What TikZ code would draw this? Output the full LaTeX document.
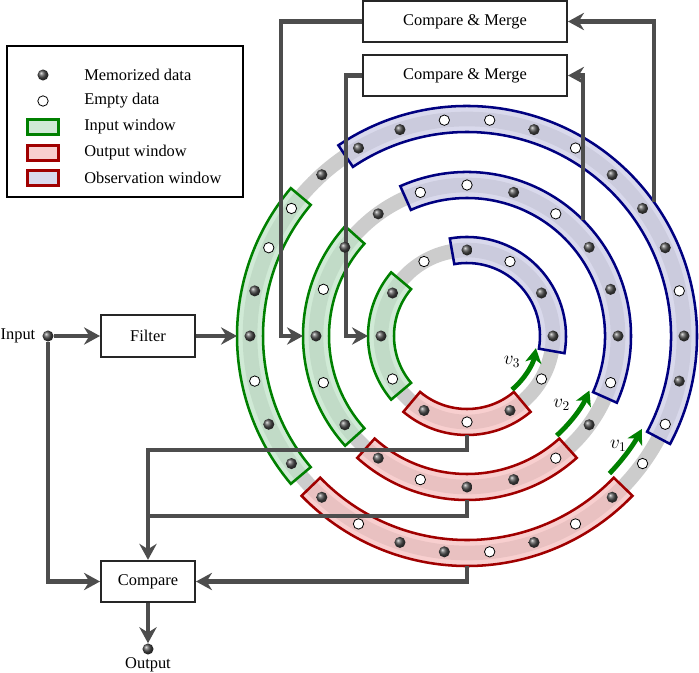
\documentclass[tikz,border=0pt]{standalone}
\usepackage{fontspec}
\setmainfont{Liberation Serif}
\usetikzlibrary{arrows.meta,positioning}

\definecolor{wingreen}{RGB}{0,128,0}
\definecolor{winblue}{RGB}{0,0,128}
\definecolor{winred}{RGB}{160,0,0}
\definecolor{fillgreen}{RGB}{190,226,198}
\definecolor{fillblue}{RGB}{203,203,228}
\definecolor{fillred}{RGB}{245,189,189}
\definecolor{linegray}{RGB}{77,77,77}

\tikzset{
  box/.style={draw=black!85, line width=1.5pt, fill=white, inner sep=0pt,
    minimum width=70.5pt, minimum height=31pt},
  conn/.style={draw=linegray, line width=3.2pt},
  band/.style={draw=black!20, line width=11pt},
  win/.style={line width=1.9pt, fill opacity=0.72},
  input win/.style={win, draw=wingreen, fill=fillgreen},
  output win/.style={win, draw=winred, fill=fillred},
  obs win/.style={win, draw=winblue, fill=fillblue},
  mem/.style={circle, inner sep=0pt, minimum size=8.3pt, ball color=black!70},
  emp/.style={circle, inner sep=0pt, minimum size=7.8pt, draw=black,
    line width=0.6pt, fill=white},
  key/.style={win, inner sep=0pt, minimum width=23pt, minimum height=11.5pt},
  keytext/.style={anchor=west, inner sep=0pt},
  speed/.style={draw=wingreen, line width=3.6pt,
    -{Stealth[length=11pt,width=12pt,inset=3pt]}},
  speedlabel/.style={font=\fontsize{14pt}{16pt}\selectfont},
}

% sector of a ring: style, radius, from, to
\newcommand{\ringwin}[4]{%
  \draw[#1] ({#3}:{#2-13}) arc[start angle=#3, end angle=#4, radius=#2-13]
    -- ({#4}:{#2+13}) arc[start angle=#4, end angle=#3, radius=#2+13] -- cycle;}

\begin{document}
\begin{tikzpicture}[x=0.75pt, y=0.75pt, font=\fontsize{12.3pt}{14pt}\selectfont,
  >={Stealth[length=12pt,width=13pt,inset=4pt]}]
  \useasboundingbox (0,0) rectangle (699,-673);

  % legend
  \draw[line width=1.8pt] (7,-46) rectangle (243,-197);
  \node[mem] (key1) at (43,-75) {};
  \node[keytext] (text1) at (84,-75) {Memorized data};
  \node[emp] (key2) at (43,-101) {};
  \node[keytext] (text2) at (84,-101) {Empty data};
  \node[key, input win] (key3) at (43,-127) {};
  \node[keytext] (text3) at (84,-127) {Input window};
  \node[key, output win] (key4) at (43,-153) {};
  \node[keytext] (text4) at (84,-153) {Output window};
  \node[key, obs win, draw=winred] (key5) at (43,-178) {};
  \node[keytext] (text5) at (84,-178) {Observation window};

  % rings and windows
  \begin{scope}[shift={(467,-336)}]
    \foreach \r in {86,151,217}
      \draw[band] (0,0) circle[radius=\r];
    \ringwin{obs win}{86}{-10}{100}
    \ringwin{input win}{86}{140}{220}
    \ringwin{output win}{86}{230}{310}
    \ringwin{obs win}{151}{-24}{114}
    \ringwin{input win}{151}{138}{222}
    \ringwin{output win}{151}{228}{312}
    \ringwin{obs win}{217}{-28}{124}
    \ringwin{input win}{217}{140}{220}
    \ringwin{output win}{217}{224}{316}
    \coordinate (r1in) at (180:99);
    \coordinate (r2in) at (180:164);
    \coordinate (r3in) at (180:230);
    \coordinate (r2obs) at (45:164);
    \coordinate (r3obs) at (35.6:230);
    \coordinate (r1out) at (270:99);
    \coordinate (r2out) at (270:164);
    \coordinate (r3out) at (270:230);
  \end{scope}

  % blocks
  \node[box, minimum width=153pt] (merge1) at (465,-21.5) {Compare \& Merge};
  \node[box, minimum width=153pt, below=8pt of merge1] (merge2) {Compare \& Merge};
  \node[box] (filter) at (148,-336) {Filter};
  \node[box] (compare) at (148,-581.5) {Compare};
  \node[mem] (indot) at (48,-336) {};
  \node[inner sep=0pt, left=5pt of indot] (inlabel) {Input};
  \node[mem] (outdot) at (148,-649) {};
  \node[inner sep=0pt, below=2pt of outdot] (outlabel) {Output};

  % connectors
  \draw[conn,->] (merge1.west) -- ++(-81,0) |- (r2in);
  \draw[conn,->] (merge2.west) -- ++(-16,0) |- (r1in);
  \draw[conn,->] (r3obs) |- (merge1.east);
  \draw[conn,->] (r2obs) |- (merge2.east);
  \draw[conn,->] (indot) -- (filter.west);
  \draw[conn,->] (filter.east) -- (r3in);
  \draw[conn,->] (indot) |- (compare.west);
  \draw[conn,->] (r1out) -- ++(0,-15) -| (compare.north);
  \draw[conn] (r2out) -- ++(0,-16) -| ([yshift=20pt]compare.north);
  \draw[conn,->] (r3out) |- (compare.east);
  \draw[conn,->] (compare.south) -- (outdot.north);

  % data and speeds
  \begin{scope}[shift={(467,-336)}]
    \foreach \s [count=\i from 0] in {mem,mem,emp,mem,emp,mem,mem,emp,mem,emp,mem,emp}
      \node[\s] (r1d\i) at ({\i*30}:86) {};
    \foreach \s [count=\i from 0] in {mem,mem,mem,emp,mem,emp,emp,mem,mem,emp,
        mem,emp,mem,mem,emp,mem,mem,emp,mem,emp}
      \node[\s] (r2d\i) at ({\i*18}:151) {};
    \foreach \s [count=\i from 0] in {mem,emp,mem,mem,mem,emp,mem,emp,emp,mem,
        mem,mem,emp,emp,mem,mem,emp,mem,mem,mem,emp,mem,mem,emp,mem,emp,mem,emp,emp,mem}
      \node[\s] (r3d\i) at ({\i*12}:217) {};
    \draw[speed] (-50:70) arc[start angle=-50, end angle=-10, radius=70];
    \draw[speed] (-48:134) arc[start angle=-48, end angle=-24, radius=134];
    \draw[speed] (-44:198) arc[start angle=-44, end angle=-28, radius=198];
    \node[speedlabel] (v3) at (-30:52) {$v_3$};
    \node[speedlabel] (v2) at (-36:117) {$v_2$};
    \node[speedlabel] (v1) at (-36:187) {$v_1$};
  \end{scope}
\end{tikzpicture}
\end{document}
